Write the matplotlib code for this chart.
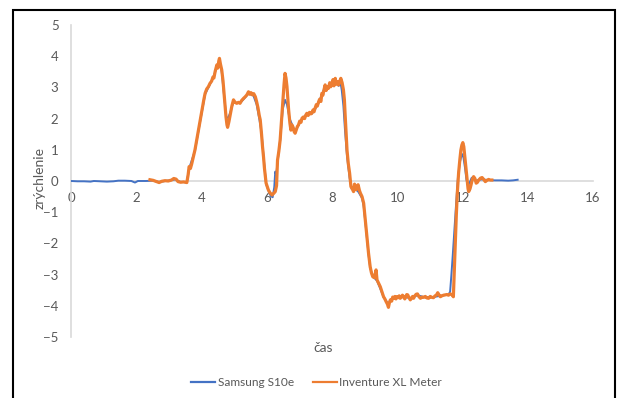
import matplotlib.pyplot as plt
from matplotlib.patches import Rectangle

# Samsung S10e: time (s) and acceleration
samsung_t = [0.00, 0.20, 0.40, 0.60, 0.70, 0.90, 1.10, 1.30, 1.45, 1.65, 1.85, 1.96, 2.05,
             2.30, 2.50, 2.70, 2.90, 3.10, 3.20, 3.35, 3.55, 3.62, 3.80, 3.96, 4.11, 4.26,
             4.37, 4.47, 4.55, 4.62, 4.69, 4.76, 4.82, 4.90, 4.98, 5.08, 5.18, 5.29, 5.44,
             5.59, 5.69, 5.77, 5.84, 5.90, 5.98, 6.05, 6.12, 6.18, 6.23, 6.26, 6.29, 6.33,
             6.41, 6.49, 6.56, 6.62, 6.70, 6.80, 6.87, 6.97, 7.08, 7.23, 7.38, 7.48, 7.59,
             7.69, 7.79, 7.89, 8.00, 8.10, 8.20, 8.27, 8.30, 8.35, 8.40, 8.46, 8.54, 8.60,
             8.71, 8.81, 8.92, 8.97, 9.02, 9.12, 9.17, 9.25, 9.38, 9.48, 9.58, 9.66, 9.73,
             9.79, 9.99, 10.19, 10.40, 10.62, 10.81, 11.11, 11.32, 11.57, 11.62, 11.66,
             11.70, 11.75, 11.80, 11.86, 11.92, 11.98, 12.03, 12.08, 12.12, 12.17, 12.22,
             12.28, 12.34, 12.42, 12.50, 12.60, 12.80, 13.00, 13.20, 13.40, 13.55, 13.69]
samsung_a = [0.00, -0.01, -0.01, -0.02, 0.00, -0.01, -0.02, -0.01, 0.01, 0.01, 0.00, -0.05, 0.00,
             0.00, 0.01, -0.03, 0.00, 0.03, 0.05, -0.03, -0.04, 0.40, 0.98, 1.92, 2.78, 3.10,
             3.35, 3.65, 3.85, 3.50, 2.75, 2.05, 2.02, 2.25, 2.55, 2.50, 2.50, 2.62, 2.80,
             2.74, 2.45, 2.00, 1.55, 0.80, -0.10, -0.30, -0.48, -0.52, -0.20, 0.30, 0.20, 0.60,
             1.30, 2.30, 2.60, 2.45, 2.00, 1.75, 1.58, 1.78, 1.98, 2.15, 2.15, 2.30, 2.50,
             2.78, 3.02, 2.98, 3.10, 3.20, 3.05, 3.10, 2.90, 2.40, 1.60, 0.80, 0.10, -0.25,
             -0.25, -0.35, -0.55, -0.80, -1.30, -2.35, -2.78, -3.05, -3.20, -3.45, -3.72, -3.85, -3.95,
             -3.80, -3.72, -3.70, -3.76, -3.66, -3.72, -3.72, -3.68, -3.64, -3.55, -3.00,
             -2.40, -1.60, -0.80, 0.10, 0.60, 0.87, 0.75, 0.40, 0.05, -0.15, -0.05,
             0.10, 0.12, 0.00, 0.04, 0.05, 0.03, 0.02, 0.02, 0.01, 0.02, 0.04]

# Inventure XL Meter: time (s) and acceleration
inventure_t = [2.42, 2.52, 2.62, 2.70, 2.78, 2.88, 2.98, 3.08, 3.15, 3.22, 3.28, 3.36, 3.45,
               3.55, 3.59, 3.62, 3.66, 3.70, 3.75, 3.80, 3.85, 3.90, 3.96, 4.02, 4.07, 4.11,
               4.16, 4.21, 4.26, 4.31, 4.35, 4.38, 4.42, 4.47, 4.50, 4.53, 4.55, 4.58, 4.62,
               4.66, 4.69, 4.72, 4.75, 4.78, 4.80, 4.84, 4.88, 4.93, 4.98, 5.03, 5.08, 5.13,
               5.18, 5.23, 5.29, 5.34, 5.39, 5.44, 5.48, 5.52, 5.56, 5.60, 5.65, 5.69, 5.73,
               5.77, 5.80, 5.84, 5.87, 5.90, 5.93, 5.96, 5.98, 6.02, 6.05, 6.10, 6.16, 6.21,
               6.26, 6.30, 6.33, 6.37, 6.41, 6.45, 6.49, 6.53, 6.56, 6.59, 6.62, 6.67, 6.71,
               6.74, 6.77, 6.80, 6.84, 6.87, 6.91, 6.94, 6.97, 7.01, 7.05, 7.08, 7.12, 7.16,
               7.20, 7.23, 7.27, 7.31, 7.35, 7.38, 7.42, 7.45, 7.48, 7.52, 7.55, 7.59, 7.62,
               7.66, 7.69, 7.72, 7.76, 7.79, 7.82, 7.86, 7.89, 7.93, 7.96, 8.00, 8.03, 8.06,
               8.10, 8.13, 8.17, 8.20, 8.24, 8.27, 8.31, 8.35, 8.38, 8.40, 8.43, 8.46, 8.50,
               8.54, 8.58, 8.62, 8.66, 8.69, 8.71, 8.74, 8.76, 8.80, 8.84, 8.87, 8.92, 8.97,
               9.02, 9.07, 9.12, 9.17, 9.21, 9.25, 9.30, 9.35, 9.38, 9.43, 9.48, 9.53, 9.58,
               9.62, 9.66, 9.70, 9.73, 9.76, 9.79, 9.83, 9.86, 9.89, 9.93, 9.96, 9.99, 10.03,
               10.06, 10.09, 10.13, 10.16, 10.19, 10.23, 10.26, 10.29, 10.32, 10.36, 10.40,
               10.43, 10.47, 10.50, 10.54, 10.58, 10.62, 10.66, 10.71, 10.76, 10.81, 10.86,
               10.91, 10.96, 11.01, 11.06, 11.11, 11.16, 11.20, 11.24, 11.28, 11.32, 11.37,
               11.42, 11.47, 11.52, 11.57, 11.63, 11.68, 11.72, 11.75, 11.78, 11.81, 11.84,
               11.88, 11.92, 11.95, 11.98, 12.01, 12.04, 12.06, 12.10, 12.14, 12.17, 12.19,
               12.23, 12.26, 12.30, 12.34, 12.38, 12.42, 12.46, 12.49, 12.55, 12.60, 12.65,
               12.70, 12.75, 12.80, 12.85, 12.90]
inventure_a = [0.04, 0.02, -0.02, -0.05, -0.01, 0.01, 0.00, 0.03, 0.08, 0.06, -0.02, -0.04, -0.03,
               -0.05, 0.20, 0.46, 0.40, 0.55, 0.78, 1.00, 1.30, 1.62, 1.96, 2.30, 2.60, 2.81,
               2.95, 3.02, 3.13, 3.20, 3.33, 3.30, 3.52, 3.72, 3.62, 3.85, 3.93, 3.75, 3.56,
               3.20, 2.81, 2.40, 2.06, 1.80, 1.72, 1.90, 2.12, 2.40, 2.60, 2.52, 2.49, 2.52,
               2.49, 2.58, 2.65, 2.70, 2.76, 2.86, 2.78, 2.83, 2.76, 2.80, 2.70, 2.54, 2.35,
               2.10, 1.96, 1.50, 1.10, 0.78, 0.40, 0.10, -0.07, -0.20, -0.29, -0.38, -0.45, -0.40,
               -0.34, -0.15, 0.67, 0.95, 1.31, 1.90, 2.49, 3.10, 3.45, 3.30, 3.02, 2.28, 1.85,
               1.63, 1.80, 1.74, 1.58, 1.53, 1.65, 1.75, 1.79, 1.92, 1.88, 2.01, 2.05, 2.00,
               2.12, 2.17, 2.10, 2.20, 2.15, 2.17, 2.28, 2.22, 2.33, 2.45, 2.40, 2.54, 2.62,
               2.55, 2.81, 2.75, 2.95, 3.08, 2.90, 3.02, 2.97, 3.15, 3.02, 3.13, 3.25, 3.05,
               3.29, 3.10, 3.18, 3.08, 3.20, 3.29, 3.15, 2.92, 2.60, 2.17, 1.60, 0.99, 0.55,
               0.25, -0.18, -0.25, -0.34, -0.10, -0.15, -0.28, -0.24, -0.12, -0.30, -0.39, -0.50, -0.71,
               -1.25, -1.79, -2.32, -2.75, -2.95, -3.07, -3.10, -2.85, -3.17, -3.28, -3.39, -3.55, -3.71,
               -3.78, -3.87, -3.95, -4.05, -3.90, -3.81, -3.85, -3.72, -3.76, -3.70, -3.78, -3.71, -3.74,
               -3.68, -3.76, -3.72, -3.66, -3.70, -3.78, -3.72, -3.64, -3.65, -3.74, -3.81,
               -3.76, -3.70, -3.76, -3.68, -3.63, -3.62, -3.70, -3.76, -3.72, -3.73, -3.70,
               -3.75, -3.76, -3.70, -3.73, -3.74, -3.68, -3.66, -3.58, -3.65, -3.71, -3.68,
               -3.66, -3.65, -3.64, -3.66, -3.62, -3.65, -3.71, -2.85, -2.00, -1.10, -0.40,
               0.25, 0.70, 0.99, 1.15, 1.23, 1.10, 0.89, 0.45, 0.03, -0.25, -0.34,
               -0.25, -0.13, 0.05, 0.14, 0.08, -0.07, -0.04, 0.02, 0.09, 0.11, 0.05,
               -0.02, 0.02, 0.05, 0.03, 0.03]

x_ticks = list(range(0, 17, 2))
y_ticks = list(range(-5, 6))

plt.rcParams['font.family'] = ['Lato', 'DejaVu Sans']
text_col = '#595959'
axis_col = '#d9d9d9'

fig = plt.figure(figsize=(6.17, 3.98), dpi=100)
ax = fig.add_axes([0.1151, 0.1533, 0.846, 0.7839])

ax.plot(samsung_t, samsung_a, color='#4472C4', lw=1.4, label='Samsung S10e', zorder=3)
ax.plot(inventure_t, inventure_a, color='#ED7D31', lw=2.3, label='Inventure XL Meter', zorder=4)

ax.set_xlim(0, 16)
ax.set_ylim(-5, 5)
ax.set_xticks(x_ticks)
ax.set_yticks(y_ticks)

# axes cross at zero, like a spreadsheet chart
ax.spines['bottom'].set_position(('data', 0))
ax.spines['left'].set_position(('data', 0))
ax.spines['top'].set_visible(False)
ax.spines['right'].set_visible(False)
for s in ('bottom', 'left'):
    ax.spines[s].set_color(axis_col)
    ax.spines[s].set_linewidth(1.2)
ax.tick_params(axis='both', length=0, labelsize=9.5, labelcolor=text_col)
ax.tick_params(axis='x', pad=8)
ax.tick_params(axis='y', pad=9)

fig.text(0.523, 0.125, 'čas', ha='center', va='center', fontsize=10, color=text_col)
fig.text(0.064, 0.552, 'zrýchlenie', ha='center', va='center', rotation=90,
         fontsize=10, color=text_col)

leg = fig.legend(loc='center', bbox_to_anchor=(0.513, 0.038), ncol=2, frameon=False,
                 fontsize=8.6, handlelength=2.0, columnspacing=1.6, handletextpad=0.2,
                 labelcolor=text_col)
for h in leg.get_lines():
    h.set_linewidth(1.6)

# chart border
fig.patches.append(Rectangle((0.021, -0.02), 0.9757, 0.995, transform=fig.transFigure,
                             fill=False, edgecolor='black', lw=1.5))

fig.savefig('out.png', dpi=100)
